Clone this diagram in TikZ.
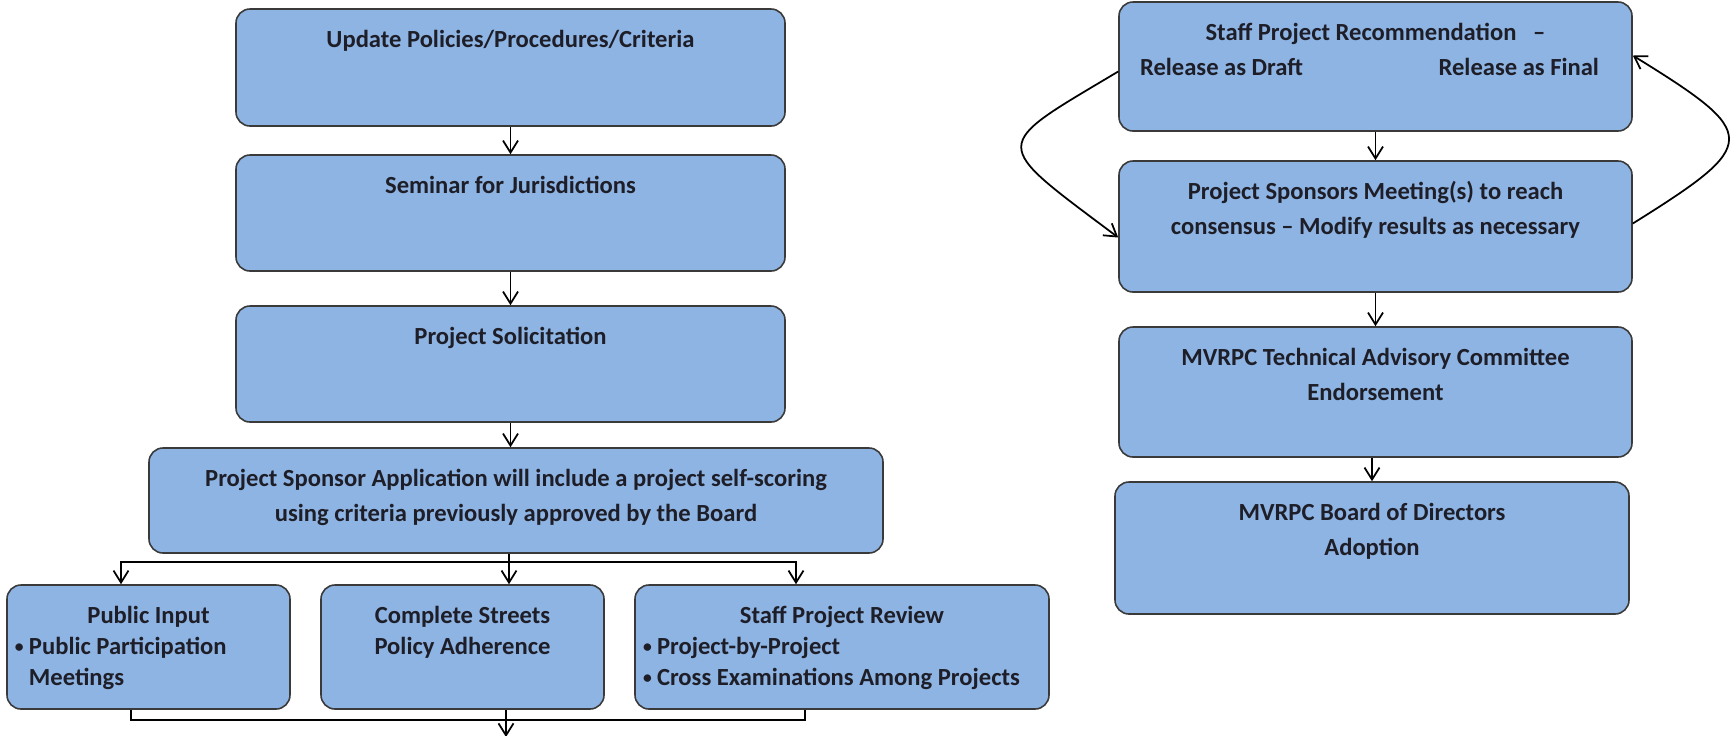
\documentclass[tikz,border=0pt]{standalone}
\usepackage{fontspec}
\setmainfont{Carlito}
\usetikzlibrary{arrows.meta,calc}
\newlength{\pxu}
\setlength{\pxu}{0.02cm}
\definecolor{boxfill}{HTML}{8EB4E3}
\definecolor{boxline}{HTML}{3A3A3A}
\definecolor{boxtext}{HTML}{1E1E28}
% body of a box: width, height (in px), text set near the top
\newcommand{\boxbody}[3]{\parbox[c][#2\pxu][t]{#1\pxu}{\centering\vspace*{14\pxu}\rule{0pt}{24.6\pxu}#3}}
\newcommand{\bul}{\makebox[14\pxu][l]{\raisebox{1.2pt}{\fontsize{10}{10}\selectfont\textbullet}}}

\begin{document}
\begin{tikzpicture}[x=0.02cm, y=-0.02cm,
		stage/.style={draw=boxline, line width=0.9pt, fill=boxfill, rounded corners=0.28cm, inner sep=0pt, text=boxtext, font=\fontsize{14}{19.9}\selectfont\bfseries},
		flow/.style={-{Straight Barb[length=2.4mm,width=3mm]}, line width=1pt},
	]
		\useasboundingbox (0,0) rectangle (1734,735);
		
		% left column
		\node[stage] (upd) at (510.5,67.5) {\boxbody{549}{117}{Update Policies/Procedures/Criteria}};
		\node[stage] (sem) at (510.5,213) {\boxbody{549}{116}{Seminar for Jurisdictions}};
		\node[stage] (sol) at (510.5,364) {\boxbody{549}{116}{Project Solicitation}};
		\node[stage] (app) at (516,500.5) {\boxbody{734}{105}{Project Sponsor Application will include a project self-scoring\\using criteria previously approved by the Board}};
		
		\node[stage] (pub) at (148.5,647) {\boxbody{283}{124}{\fontsize{14}{17.6}\selectfont Public Input\par\raggedright\hspace*{8\pxu}\bul Public Participation\\\hspace*{22\pxu}Meetings}};
		\node[stage] (cs) at (462.5,647) {\boxbody{283}{124}{\fontsize{14}{17.6}\selectfont Complete Streets\\Policy Adherence}};
		\node[stage] (spr) at (842,647) {\boxbody{414}{124}{\fontsize{14}{17.6}\selectfont Staff Project Review\par\raggedright\hspace*{8\pxu}\bul Project-by-Project\\\hspace*{8\pxu}\bul Cross Examinations Among Projects}};
		
		\draw[flow] (upd) -- (sem);
		\draw[flow] (sem) -- (sol);
		\draw[flow] (sol.south) -- (sol.south |- app.north);
		
		\coordinate (split) at (509,562);
		\coordinate (splitL) at (121,562);
		\coordinate (splitR) at (796,562);
		\draw[line width=1pt] (app.south -| split) -- (split);
		\draw[flow] (split) -| (splitL |- pub.north);
		\draw[flow] (split) -| (splitR |- spr.north);
		\draw[flow] (split) -- (split |- cs.north);
		
		\coordinate (mergeL) at (131,720);
		\coordinate (mergeR) at (805,720);
		\coordinate (out) at (506,737);
		\draw[line width=1pt] (pub.south -| mergeL) |- (mergeR) -- (spr.south -| mergeR);
		\draw[flow] (cs.south -| out) -- (out);
		
		% right column
		\node[stage] (rec) at (1375.5,66.5) {\boxbody{513}{129}{Staff Project Recommendation \ \ --\\\makebox[\linewidth]{\hspace{21\pxu}Release as Draft\hfill Release as Final\hspace{33\pxu}}}};
		\node[stage] (mtg) at (1375.5,226.5) {\boxbody{513}{131}{Project Sponsors Meeting(s) to reach\\consensus -- Modify results as necessary}};
		\node[stage] (tac) at (1375.5,392) {\boxbody{513}{130}{MVRPC Technical Advisory Committee\\Endorsement}};
		\node[stage] (brd) at (1372,548) {\boxbody{514}{132}{MVRPC Board of Directors\\Adoption}};
		
		\draw[flow] (rec) -- (mtg);
		\draw[flow] (mtg) -- (tac);
		\draw[flow] (tac.south -| brd) -- (brd.north);
		
		\draw[flow] ($(rec.west)+(0,5)$) .. controls +(-129,77) and +(-129,-97) .. ($(mtg.west)+(0,11)$);
		\draw[flow] ($(mtg.east)+(0,-3)$) .. controls +(128,-80) and +(128,79) .. ($(rec.east)+(0,-11)$);
	\end{tikzpicture}
\end{document}
